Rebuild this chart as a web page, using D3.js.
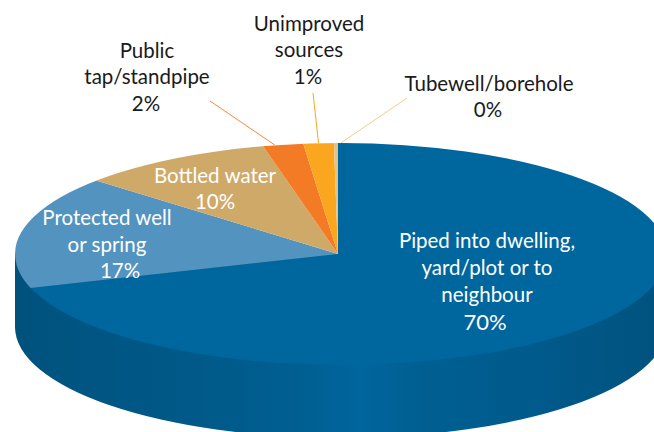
<!DOCTYPE html>
<html>
<head>
<meta charset="utf-8">
<script src="https://cdn.jsdelivr.net/npm/d3@7"></script>
<style>
  html, body { margin: 0; padding: 0; background: #fff; }
  text { font-family: Lato, sans-serif; font-size: 20.5px; }
</style>
</head>
<body>
<svg id="chart" width="654" height="432"></svg>
<script>
var categories = ["Piped into dwelling, yard/plot or to neighbour", "Protected well or spring", "Bottled water", "Public tap/standpipe", "Unimproved sources", "Tubewell/borehole"];
// slice sizes as drawn, the printed labels are rounded differently
var sliceValues = [70, 16.6, 9.7, 2.0, 1.5, 0.2];
var percentLabels = ["70%", "17%", "10%", "2%", "1%", "0%"];
var labelLines = [
  ["Piped into dwelling,", "yard/plot or to", "neighbour"],
  ["Protected well", "or spring"],
  ["Bottled water"],
  ["Public", "tap/standpipe"],
  ["Unimproved", "sources"],
  ["Tubewell/borehole"]
];

var colors = ["#00669e", "#5293c0", "#cfa968", "#f47b26", "#fba61f", "#e3c38c"];
var leaderColors = [null, null, null, "#f58a3c", "#fba61f", "#fcc98a"];

// the disc ellipse sits a little right of the slice apex
var ax = 338, ay = 254, cx = 341, cy = 254, rx = 326, ry = 111, depth = 73;

// label layout: x centre, first baseline, line step, percent x and baseline, leader end and start along the slice
var labelPos = [
  { x: 487, y: 248, step: 27, px: 485, py: 330, size: 22 },
  { x: 107, y: 225, step: 27, px: 120, py: 278 },
  { x: 215, y: 183, step: 27, px: 215, py: 209 },
  { x: 147, y: 58, step: 26, px: 146, py: 111, lx: 210, ly: 101, lf: 0.3 },
  { x: 309, y: 31, step: 26, px: 308, py: 84, lx: 313, ly: 93, lf: 0.5 },
  { x: 489, y: 91, step: 26, px: 488, py: 117, lx: 407, ly: 98, lf: 1.7 }
];

var svg = d3.select("#chart");

var defs = svg.append("defs");
var sideGrad = defs.append("linearGradient").attr("id", "side");
[[0, "#00527d"], [0.3, "#005a8a"], [0.44, "#005f92"], [0.53, "#00669e"], [0.62, "#005f92"], [0.8, "#005a8b"], [1, "#00527d"]].forEach(function(s) {
  sideGrad.append("stop").attr("offset", s[0]).attr("stop-color", s[1]);
});

defs.append("clipPath").attr("id", "disc")
  .append("ellipse")
  .attr("cx", cx).attr("cy", cy).attr("rx", rx).attr("ry", ry);

var pie = d3.pie().sort(null).value(function(d) { return d; });
var slices = pie(sliceValues);
var arc = d3.arc().innerRadius(0).outerRadius(rx * 1.1);

// side wall of the disc
svg.append("path")
  .attr("fill", "url(#side)")
  .attr("d", "M" + (cx - rx) + "," + cy
    + "V" + (cy + depth)
    + "A" + rx + "," + ry + " 0 0 0 " + (cx + rx) + "," + (cy + depth)
    + "V" + cy + "Z");

// top face, circle squashed and clipped to the ellipse
var topFace = svg.append("g")
  .attr("clip-path", "url(#disc)")
  .append("g")
  .attr("transform", "translate(" + ax + "," + ay + ") scale(1," + (ry / rx) + ")");

topFace.selectAll("path")
  .data(slices)
  .enter()
  .append("path")
  .attr("d", arc)
  .attr("fill", function(d, i) { return colors[i]; });

// leader lines from the rim to the outside labels
function rimAngle(d) {
  return d.startAngle + labelPos[d.index].lf * (d.endAngle - d.startAngle);
}

svg.selectAll("line.leader")
  .data(slices.filter(function(d, i) { return leaderColors[i]; }))
  .enter()
  .append("line")
  .attr("class", "leader")
  .attr("x1", function(d) { return ax + rx * Math.sin(rimAngle(d)); })
  .attr("y1", function(d) { return ay - ry * Math.cos(rimAngle(d)); })
  .attr("x2", function(d) { return labelPos[d.index].lx; })
  .attr("y2", function(d) { return labelPos[d.index].ly; })
  .attr("stroke", function(d) { return leaderColors[d.index]; })
  .attr("stroke-width", 1);

// labels
categories.forEach(function(name, i) {
  var pos = labelPos[i];
  var fill = i < 3 ? "#fff" : "#1a1a1a";
  var g = svg.append("g").attr("class", "label").attr("text-anchor", "middle").attr("fill", fill);
  labelLines[i].forEach(function(line, j) {
    g.append("text").attr("x", pos.x).attr("y", pos.y + j * pos.step).text(line);
  });
  g.append("text")
    .attr("x", pos.px)
    .attr("y", pos.py)
    .style("font-size", pos.size ? pos.size + "px" : null)
    .text(percentLabels[i]);
});
</script>
</body>
</html>
